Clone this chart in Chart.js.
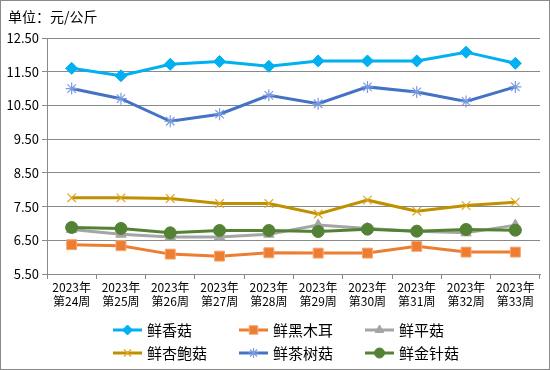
<!DOCTYPE html>
<html><head><meta charset="utf-8">
<script src="https://cdn.jsdelivr.net/npm/chart.js@4"></script>
<style>html,body{margin:0;padding:0;background:#fff}</style>
</head><body>
<canvas id="c" width="550" height="370" style="width:550px;height:370px;display:block"></canvas>
<script>
const categories = [['2023年','第24周'],['2023年','第25周'],['2023年','第26周'],['2023年','第27周'],['2023年','第28周'],['2023年','第29周'],['2023年','第30周'],['2023年','第31周'],['2023年','第32周'],['2023年','第33周']];
const seriesNames = ['鲜香菇','鲜黑木耳','鲜平菇','鲜杏鲍菇','鲜茶树菇','鲜金针菇'];
const xiangGu   = [11.60, 11.38, 11.72, 11.80, 11.66, 11.82, 11.82, 11.82, 12.08, 11.75];
const heiMuEr   = [6.37, 6.34, 6.09, 6.03, 6.13, 6.12, 6.12, 6.32, 6.15, 6.15];
const pingGu    = [6.82, 6.68, 6.60, 6.60, 6.68, 6.95, 6.85, 6.77, 6.72, 6.95];
const xingBaoGu = [7.76, 7.76, 7.74, 7.59, 7.59, 7.28, 7.69, 7.36, 7.53, 7.63];
const chaShuGu  = [11.00, 10.70, 10.03, 10.24, 10.80, 10.55, 11.05, 10.90, 10.62, 11.05];
const jinZhenGu = [6.88, 6.85, 6.72, 6.79, 6.79, 6.76, 6.83, 6.77, 6.82, 6.80];
const yTickMin = 5.5, yTickMax = 12.5, yTickStep = 1;
const unitLabel = '单位：元/公斤';

const FONT = '"Noto Sans CJK SC", "Noto Sans", sans-serif';
const styles = [
  {line:'#00B0F0', pf:'#00B0F0', pb:'#00B0F0', ps:'rectRot', r:6, bw:1},
  {line:'#ED7D31', pf:'#ED7D31', pb:'#F4A46E', ps:'rect', r:7, bw:1},
  {line:'#A5A5A5', pf:'#A5A5A5', pb:'#A5A5A5', ps:'triangle', r:6, bw:1},
  {line:'#BF9000', pf:'#E0B030', pb:'#E0A820', ps:'crossRot', r:6, bw:1.2},
  {line:'#4472C4', pf:'#7A9BE0', pb:'#7A9BE0', ps:'star', r:6, bw:1.2},
  {line:'#548235', pf:'#548235', pb:'#548235', ps:'circle', r:6, bw:1}
];
const allData = [xiangGu, heiMuEr, pingGu, xingBaoGu, chaShuGu, jinZhenGu];
const datasets = allData.map((d, i) => ({
  label: seriesNames[i], data: d,
  borderColor: styles[i].line, backgroundColor: styles[i].pf,
  borderWidth: 3,
  pointStyle: styles[i].ps, pointRadius: styles[i].r,
  pointBackgroundColor: styles[i].pf, pointBorderColor: styles[i].pb,
  pointBorderWidth: styles[i].bw, tension: 0, order: 10 - i
}));

const deco = {
  id: 'deco',
  beforeDraw(chart) {
    const ctx = chart.ctx;
    ctx.save();
    ctx.fillStyle = '#fff';
    ctx.fillRect(0, 0, chart.width, chart.height);
    ctx.restore();
  },
  afterDraw(chart) {
    const ctx = chart.ctx;
    ctx.save();
    ctx.strokeStyle = '#898989'; ctx.lineWidth = 1;
    ctx.strokeRect(0.5, 0.5, chart.width - 1, chart.height - 1);
    ctx.fillStyle = '#000';
    ctx.font = '14px ' + FONT;
    ctx.textBaseline = 'middle'; ctx.textAlign = 'left';
    ctx.fillText(unitLabel, 8, 17);
    // legend
    const cols = [113, 239, 365], rows = [330, 353];
    ctx.font = '15px ' + FONT;
    chart.data.datasets.forEach((ds, i) => {
      const x = cols[i % 3], y = rows[Math.floor(i / 3)];
      ctx.strokeStyle = ds.borderColor; ctx.lineWidth = 3;
      ctx.beginPath(); ctx.moveTo(x, y); ctx.lineTo(x + 29, y); ctx.stroke();
      ctx.fillStyle = ds.pointBackgroundColor; ctx.strokeStyle = ds.pointBorderColor;
      ctx.lineWidth = ds.pointBorderWidth;
      Chart.helpers.drawPoint(ctx, {pointStyle: ds.pointStyle, radius: ds.pointRadius - 1, borderWidth: ds.pointBorderWidth, rotation: 0}, x + 14.5, y);
      ctx.fillStyle = '#000';
      ctx.textBaseline = 'middle';
      ctx.fillText(ds.label, x + 34, y);
    });
    ctx.restore();
  }
};

new Chart(document.getElementById('c'), {
  type: 'line',
  data: { labels: categories, datasets },
  plugins: [deco],
  options: {
    responsive: false, animation: false, devicePixelRatio: 1,
    layout: { padding: { left: 0, right: 10, top: 38, bottom: 46 } },
    plugins: { legend: { display: false }, tooltip: { enabled: false }, title: { display: false } },
    scales: {
      x: {
        offset: true,
        grid: { drawOnChartArea: false, drawTicks: true, tickLength: 5, color: '#898989', offset: true },
        border: { color: '#898989' },
        ticks: { color: '#000', font: { size: 12, family: FONT, lineHeight: 1.15 }, padding: 2, maxRotation: 0, autoSkip: false },
        afterFit(s) { s.height = 50; }
      },
      y: {
        min: yTickMin, max: yTickMax,
        grid: { color: '#898989', tickLength: 5 },
        border: { color: '#898989' },
        ticks: { stepSize: yTickStep, color: '#000', font: { size: 13, family: FONT }, padding: 3,
          callback: v => Number(v).toFixed(2) },
        afterFit(s) { s.width = 47; }
      }
    }
  }
});
</script>
</body></html>
